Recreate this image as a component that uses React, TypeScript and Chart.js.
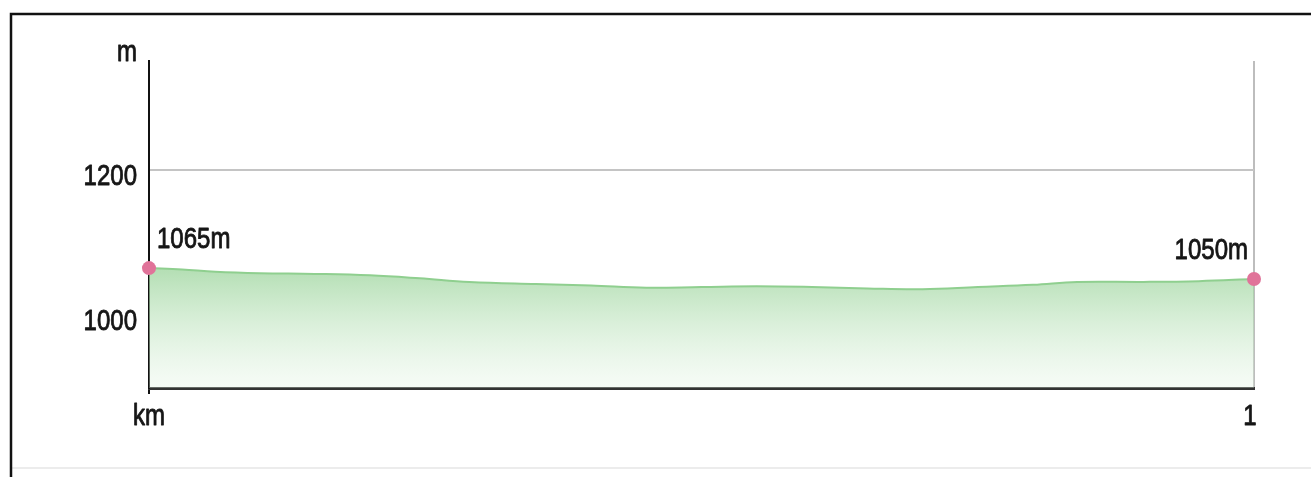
import React, { useEffect, useRef } from "react";
import Chart from "chart.js/auto";

const distanceKm = [0, 0.03, 0.06, 0.1, 0.15, 0.2, 0.245, 0.29, 0.35, 0.4, 0.45, 0.5, 0.55, 0.6, 0.65, 0.7, 0.75, 0.8, 0.84, 0.9, 0.95, 1.0];
const elevationM = [1065, 1063, 1060, 1058, 1057, 1055, 1051, 1046, 1043, 1041, 1038, 1039, 1040, 1039, 1037, 1036, 1039, 1042, 1046, 1046, 1047, 1050];
const yTicks = [1000, 1200];
const xTicks = [0, 1];
const xTickLabels: Record<number, string> = { 0: "km", 1: "1" };
const yUnit = "m";
const startLabel = "1065m";
const endLabel = "1050m";

const FONT = '30px "Liberation Sans", Arial, sans-serif';
const TEXT = "#161616";
const SQUEEZE = 0.8;

function drawText(ctx: CanvasRenderingContext2D, text: string, x: number, y: number, align: CanvasTextAlign) {
  ctx.save();
  ctx.translate(x, y);
  ctx.scale(SQUEEZE, 1);
  ctx.font = FONT;
  ctx.fillStyle = TEXT;
  ctx.strokeStyle = TEXT;
  ctx.lineWidth = 0.9;
  ctx.lineJoin = "round";
  ctx.textAlign = align;
  ctx.textBaseline = "alphabetic";
  ctx.fillText(text, 0, 0);
  ctx.strokeText(text, 0, 0);
  ctx.restore();
}

export default function App() {
  const ref = useRef<HTMLCanvasElement>(null);
  useEffect(() => {
    const n = distanceKm.length;
    const framePlugin = {
      id: "frame",
      beforeDraw(chart: any) {
        const ctx = chart.ctx;
        ctx.save();
        ctx.fillStyle = "#ffffff";
        ctx.fillRect(0, 0, chart.width, chart.height);
        ctx.strokeStyle = "#e6e6e6";
        ctx.lineWidth = 1.5;
        ctx.beginPath();
        ctx.moveTo(11, 468);
        ctx.lineTo(chart.width, 468);
        ctx.stroke();
        ctx.strokeStyle = "#111";
        ctx.lineWidth = 2.5;
        ctx.beginPath();
        ctx.moveTo(chart.width, 14);
        ctx.lineTo(11, 14);
        ctx.lineTo(11, chart.height);
        ctx.stroke();
        ctx.restore();
      },
      afterDraw(chart: any) {
        const ctx = chart.ctx;
        const xs = chart.scales.x;
        const ys = chart.scales.y;
        const meta = chart.getDatasetMeta(0);
        const p0 = meta.data[0];
        const pN = meta.data[meta.data.length - 1];
        yTicks.forEach((v) => {
          drawText(ctx, String(v), ys.right - 12, ys.getPixelForValue(v) + 15, "right");
        });
        xTicks.forEach((v, i) => {
          const px = xs.getPixelForValue(v) + (i === xTicks.length - 1 ? -4 : 0);
          drawText(ctx, xTickLabels[v], px, xs.top + 37, "center");
        });
        drawText(ctx, yUnit, ys.right - 12, chart.chartArea.top, "right");
        drawText(ctx, startLabel, p0.x + 8, p0.y - 20, "left");
        drawText(ctx, endLabel, pN.x - 6, pN.y - 20, "right");
      },
    };

    const chart = new Chart(ref.current as HTMLCanvasElement, {
      type: "line",
      data: {
        datasets: [
          {
            data: distanceKm.map((x, i) => ({ x, y: elevationM[i] })),
            borderColor: "#8fcf8f",
            borderWidth: 2,
            fill: "start",
            clip: false,
            backgroundColor: (c: any) => {
              const area = c.chart.chartArea;
              if (!area) return "rgba(160,215,160,0.6)";
              const g = c.chart.ctx.createLinearGradient(0, area.top + 210, 0, area.bottom);
              g.addColorStop(0, "rgba(150,210,150,0.7)");
              g.addColorStop(1, "rgba(225,243,225,0.3)");
              return g;
            },
            tension: 0.4,
            pointRadius: (c: any) => (c.dataIndex === 0 || c.dataIndex === n - 1 ? 7 : 0),
            pointBackgroundColor: "#e07399",
            pointBorderWidth: 0,
          } as any,
        ],
      },
      options: {
        responsive: false,
        animation: false,
        layout: { padding: { top: 61, right: 57, left: 0, bottom: 0 } },
        plugins: { legend: { display: false }, tooltip: { enabled: false } },
        scales: {
          x: {
            type: "linear",
            min: 0,
            max: 1,
            afterBuildTicks: (s: any) => {
              s.ticks = xTicks.map((v) => ({ value: v }));
            },
            afterFit: (s: any) => {
              s.height = 89;
            },
            ticks: { display: false },
            grid: {
              color: (c: any) => (c.tick && c.tick.value === 1 ? "#bdbdbd" : "rgba(0,0,0,0)"),
              lineWidth: 2,
              drawTicks: true,
              tickLength: 6,
              tickWidth: 2,
              tickColor: (c: any) => (c.tick && c.tick.value === 0 ? "#111" : "rgba(0,0,0,0)"),
            },
            border: { color: "#333", width: 3 },
          },
          y: {
            min: 900,
            max: 1350,
            afterBuildTicks: (s: any) => {
              s.ticks = yTicks.map((v) => ({ value: v }));
            },
            afterFit: (s: any) => {
              s.width = 149;
            },
            ticks: { display: false },
            grid: {
              color: (c: any) => (c.tick && c.tick.value === 1200 ? "#c4c4c4" : "rgba(0,0,0,0)"),
              lineWidth: 2,
              drawTicks: false,
            },
            border: { color: "#111", width: 2 },
          },
        },
      },
      plugins: [framePlugin],
    });
    return () => chart.destroy();
  }, []);
  return (
    <div style={{ position: "fixed", left: 0, top: 0, width: 1311, height: 477, background: "#fff" }}>
      <canvas ref={ref} width={1311} height={477} style={{ display: "block" }} />
    </div>
  );
}
